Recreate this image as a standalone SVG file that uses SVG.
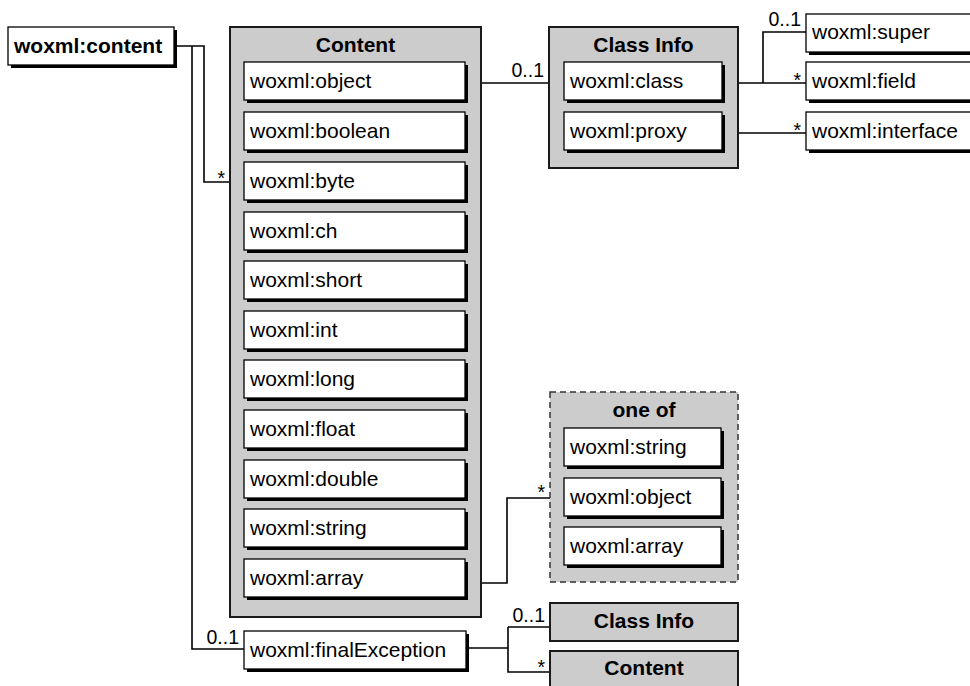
<svg xmlns="http://www.w3.org/2000/svg" width="970" height="686" viewBox="0 0 970 686">
<style>
text{font-family:"Liberation Sans",Arial,Helvetica,sans-serif;fill:#000}
.t{font-size:21px}
.b{font-size:21px;font-weight:bold;text-anchor:middle}
.bl{font-size:21px;font-weight:bold}
.lab{font-size:19.5px}
.e{text-anchor:end}
.box{fill:#fff;stroke:#000;stroke-width:1.3}
.sh{fill:#000}
.grp{fill:#cccccc;stroke:#1a1a1a;stroke-width:2}
.dash{fill:#cccccc;stroke:#333;stroke-width:1.5;stroke-dasharray:6 4}
.c{fill:none;stroke:#000;stroke-width:1.6}
</style>
<rect width="970" height="686" fill="#fff"/>

<g id="connectors">
<polyline class="c" points="174,46 204,46 204,182 230,182"/>
<polyline class="c" points="192,46 192,649 244,649"/>
<polyline class="c" points="468,83 549,83"/>
<polyline class="c" points="724,83 806,83"/>
<polyline class="c" points="763,83 763,32 806,32"/>
<polyline class="c" points="724,133 806,133"/>
<polyline class="c" points="468,583 507,583 507,498 550,498"/>
<polyline class="c" points="468,648 508,648"/>
<polyline class="c" points="508,627 508,672 550,672"/>
<polyline class="c" points="508,627 550,627"/>
<text class="lab e" x="225" y="185">*</text>
<text class="lab e" x="544" y="77">0..1</text>
<text class="lab e" x="801" y="26">0..1</text>
<text class="lab e" x="801" y="87">*</text>
<text class="lab e" x="801" y="137">*</text>
<text class="lab e" x="545" y="499">*</text>
<text class="lab e" x="239" y="644">0..1</text>
<text class="lab e" x="545" y="622">0..1</text>
<text class="lab e" x="545" y="674">*</text>
</g>

<g id="woxml-content">
<rect class="sh" x="11" y="30" width="166" height="38"/>
<rect class="box" x="8" y="27" width="166" height="38"/>
<text class="bl" x="14" y="53">woxml:content</text>
</g>

<g id="content">
<rect class="grp" x="230" y="27" width="251" height="590"/>
<text class="b" x="355.5" y="52">Content</text>
</g>
<g id="c-object"><rect class="sh" x="247" y="65" width="221" height="38"/><rect class="box" x="244" y="62" width="221" height="38"/><text class="t" x="250" y="88">woxml:object</text></g>
<g id="c-boolean"><rect class="sh" x="247" y="115" width="221" height="38"/><rect class="box" x="244" y="112" width="221" height="38"/><text class="t" x="250" y="138">woxml:boolean</text></g>
<g id="c-byte"><rect class="sh" x="247" y="165" width="221" height="38"/><rect class="box" x="244" y="162" width="221" height="38"/><text class="t" x="250" y="188">woxml:byte</text></g>
<g id="c-ch"><rect class="sh" x="247" y="215" width="221" height="38"/><rect class="box" x="244" y="212" width="221" height="38"/><text class="t" x="250" y="238">woxml:ch</text></g>
<g id="c-short"><rect class="sh" x="247" y="264" width="221" height="38"/><rect class="box" x="244" y="261" width="221" height="38"/><text class="t" x="250" y="287">woxml:short</text></g>
<g id="c-int"><rect class="sh" x="247" y="314" width="221" height="38"/><rect class="box" x="244" y="311" width="221" height="38"/><text class="t" x="250" y="337">woxml:int</text></g>
<g id="c-long"><rect class="sh" x="247" y="363" width="221" height="38"/><rect class="box" x="244" y="360" width="221" height="38"/><text class="t" x="250" y="386">woxml:long</text></g>
<g id="c-float"><rect class="sh" x="247" y="413" width="221" height="38"/><rect class="box" x="244" y="410" width="221" height="38"/><text class="t" x="250" y="436">woxml:float</text></g>
<g id="c-double"><rect class="sh" x="247" y="463" width="221" height="38"/><rect class="box" x="244" y="460" width="221" height="38"/><text class="t" x="250" y="486">woxml:double</text></g>
<g id="c-string"><rect class="sh" x="247" y="512" width="221" height="38"/><rect class="box" x="244" y="509" width="221" height="38"/><text class="t" x="250" y="535">woxml:string</text></g>
<g id="c-array"><rect class="sh" x="247" y="562" width="221" height="38"/><rect class="box" x="244" y="559" width="221" height="38"/><text class="t" x="250" y="585">woxml:array</text></g>

<g id="classinfo">
<rect class="grp" x="549" y="27" width="189" height="141"/>
<text class="b" x="643.5" y="52">Class Info</text>
</g>
<g id="ci-class"><rect class="sh" x="567" y="65" width="158" height="38"/><rect class="box" x="564" y="62" width="158" height="38"/><text class="t" x="570" y="88">woxml:class</text></g>
<g id="ci-proxy"><rect class="sh" x="567" y="115" width="158" height="38"/><rect class="box" x="564" y="112" width="158" height="38"/><text class="t" x="570" y="138">woxml:proxy</text></g>

<g id="super"><rect class="sh" x="809" y="17" width="200" height="38"/><rect class="box" x="806" y="14" width="200" height="38"/><text class="t" x="812" y="39">woxml:super</text></g>
<g id="field"><rect class="sh" x="809" y="65" width="200" height="38"/><rect class="box" x="806" y="62" width="200" height="38"/><text class="t" x="812" y="88">woxml:field</text></g>
<g id="interface"><rect class="sh" x="809" y="115" width="200" height="38"/><rect class="box" x="806" y="112" width="200" height="38"/><text class="t" x="812" y="138">woxml:interface</text></g>

<g id="oneof">
<rect class="dash" x="550" y="392" width="188" height="190"/>
<text class="b" x="644" y="417">one of</text>
</g>
<g id="o-string"><rect class="sh" x="567" y="431" width="157" height="38"/><rect class="box" x="564" y="428" width="157" height="38"/><text class="t" x="570" y="454">woxml:string</text></g>
<g id="o-object"><rect class="sh" x="567" y="481" width="157" height="38"/><rect class="box" x="564" y="478" width="157" height="38"/><text class="t" x="570" y="504">woxml:object</text></g>
<g id="o-array"><rect class="sh" x="567" y="530" width="157" height="38"/><rect class="box" x="564" y="527" width="157" height="38"/><text class="t" x="570" y="553">woxml:array</text></g>

<g id="finalException"><rect class="sh" x="247" y="634" width="222" height="38"/><rect class="box" x="244" y="631" width="222" height="38"/><text class="t" x="250" y="657">woxml:finalException</text></g>

<g id="ref-classinfo"><rect class="grp" x="550" y="603" width="188" height="38"/><text class="b" x="644" y="628">Class Info</text></g>
<g id="ref-content"><rect class="grp" x="550" y="651" width="188" height="45"/><text class="b" x="644" y="675">Content</text></g>
</svg>
